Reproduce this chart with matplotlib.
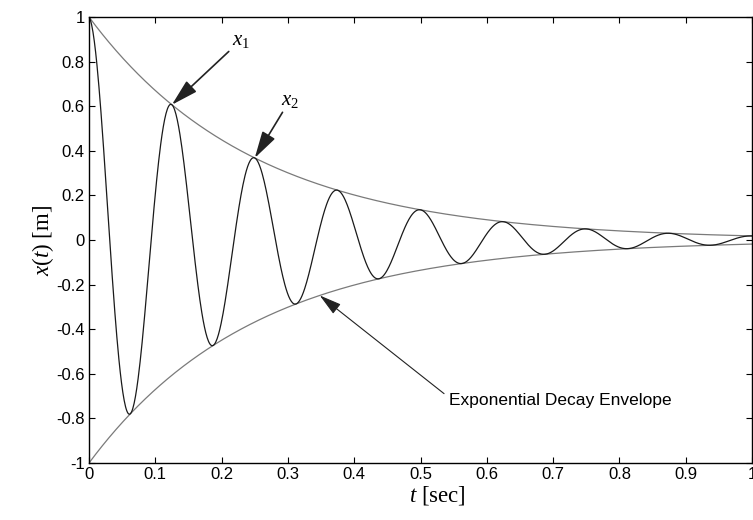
import matplotlib.pyplot as plt
import numpy as np

plt.rcParams["mathtext.fontset"] = "custom"
plt.rcParams["mathtext.it"] = "Liberation Serif:italic"
plt.rcParams["mathtext.rm"] = "Liberation Serif"

# damped free vibration: x(t) = exp(-a t) cos(2 pi f t)
decay_rate = 4.0      # 1/s
damped_freq = 8.0     # Hz
t_end = 1.0
n_pts = 1000

x_ticks = [0, 0.1, 0.2, 0.3, 0.4, 0.5, 0.6, 0.7, 0.8, 0.9, 1]
x_ticklabels = ["0", "0.1", "0.2", "0.3", "0.4", "0.5", "0.6", "0.7", "0.8", "0.9", "1"]
y_ticks = [-1, -0.8, -0.6, -0.4, -0.2, 0, 0.2, 0.4, 0.6, 0.8, 1]
y_ticklabels = ["-1", "-0.8", "-0.6", "-0.4", "-0.2", "0", "0.2", "0.4", "0.6", "0.8", "1"]

t = np.linspace(0, t_end, n_pts)
env = np.exp(-decay_rate * t)
x = env * np.cos(2 * np.pi * damped_freq * t)

fig = plt.figure(figsize=(7.53, 5.2), dpi=100)
ax = fig.add_axes([0.1182, 0.1096, 0.8805, 0.8577])

ax.plot(t, env, color="#7a7a7a", lw=0.9)
ax.plot(t, -env, color="#7a7a7a", lw=0.9)
ax.plot(t, x, color="#1a1a1a", lw=0.9)

ax.set_xlim(0, 1)
ax.set_ylim(-1, 1)
ax.set_xticks(x_ticks)
ax.set_xticklabels(x_ticklabels)
ax.set_yticks(y_ticks)
ax.set_yticklabels(y_ticklabels)
ax.tick_params(direction="in", length=4, width=0.8, top=True, right=True,
               labelsize=12, pad=3)
for lab in ax.get_xticklabels() + ax.get_yticklabels():
    lab.set_family("Liberation Sans")
for s in ax.spines.values():
    s.set_linewidth(1.0)

ax.set_xlabel(r"$t$ [sec]", family="Liberation Serif", fontsize=16.5)
ax.xaxis.set_label_coords(0.525, -0.047)
ax.set_ylabel(r"$x(t)$ [m]", family="Liberation Serif", fontsize=16.5, labelpad=0)

# peak markers
t1 = 1 / damped_freq
t2 = 2 / damped_freq
arrow = dict(arrowstyle="-|>,head_length=1.1,head_width=0.3", color="#222222",
             lw=1.2, shrinkA=0, shrinkB=0)
ax.annotate(r"$x_1$", xy=(t1, np.exp(-decay_rate * t1)), xytext=(0.215, 0.895),
            fontsize=15, ha="left", va="center", arrowprops=arrow)
ax.annotate(r"$x_2$", xy=(t2, np.exp(-decay_rate * t2)), xytext=(0.29, 0.63),
            fontsize=15, ha="left", va="center", arrowprops=arrow)
ax.annotate("Exponential Decay Envelope", xy=(0.348, -np.exp(-decay_rate * 0.348)),
            xytext=(0.543, -0.72), family="Liberation Sans", fontsize=12.5,
            ha="left", va="center",
            arrowprops=dict(arrowstyle="-|>,head_length=1.1,head_width=0.3",
                            color="#222222", lw=0.8, shrinkA=2, shrinkB=0,
                            relpos=(0, 0.7)))

fig.savefig("out.png", dpi=100)
